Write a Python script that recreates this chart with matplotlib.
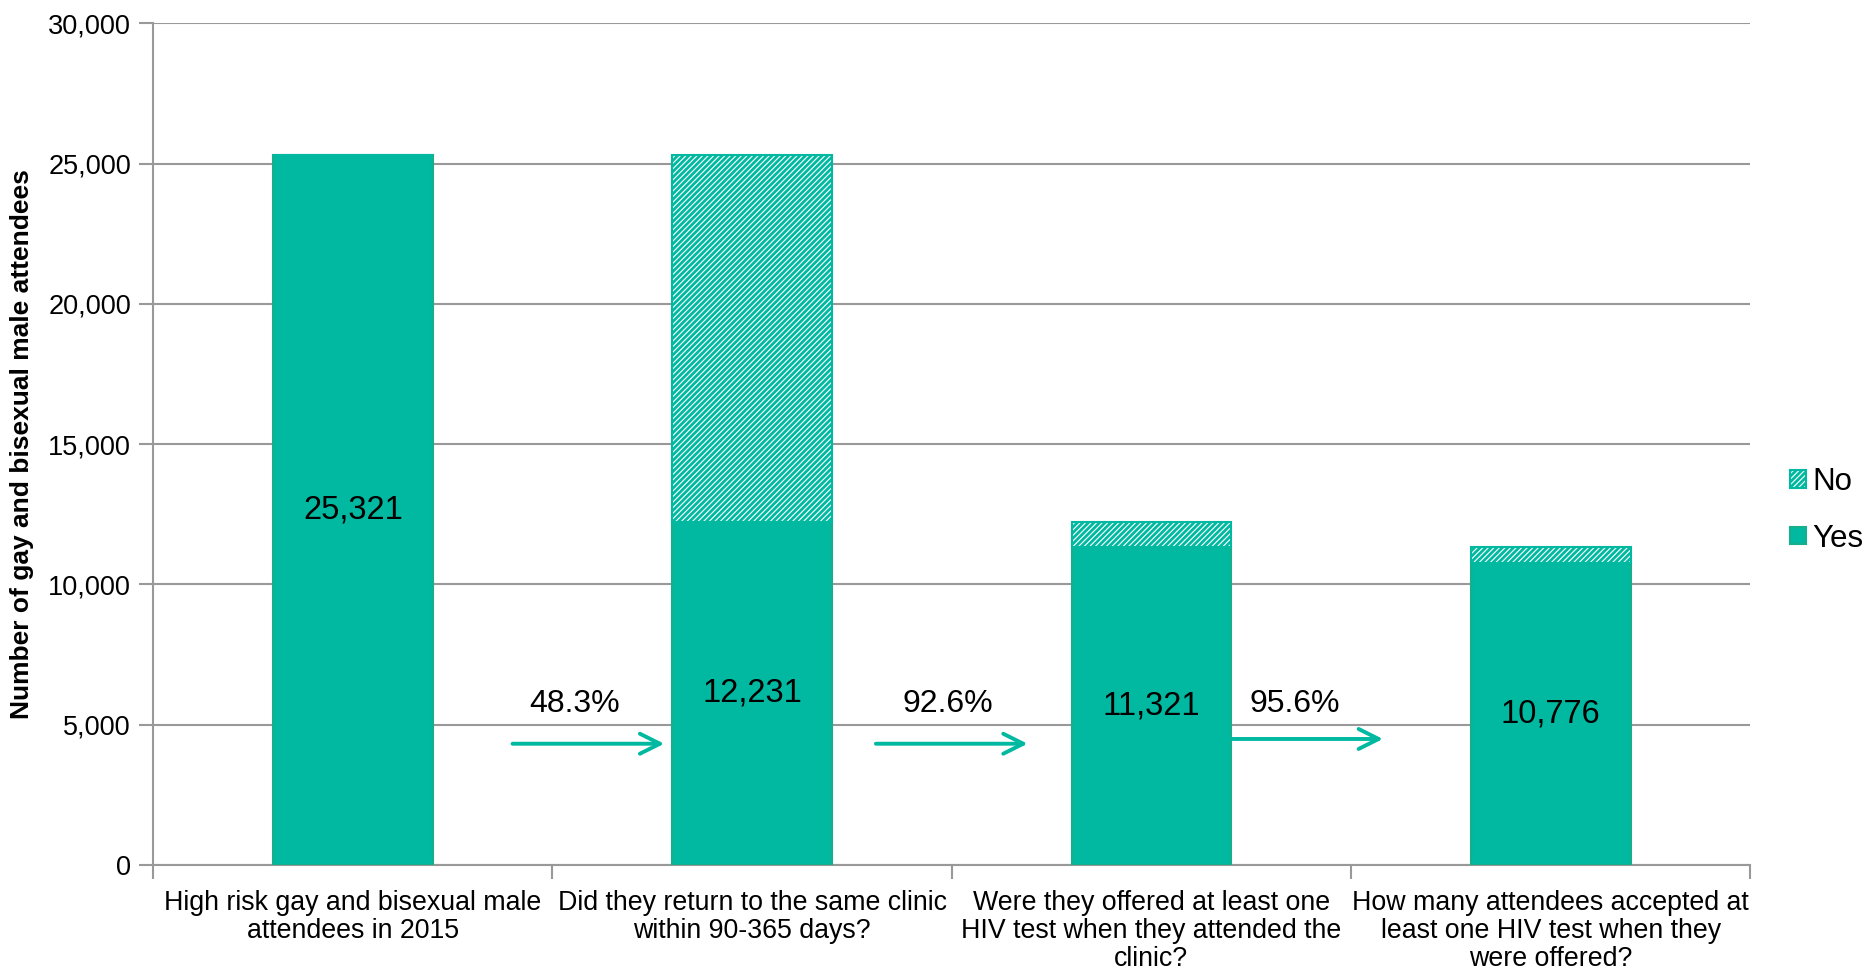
import matplotlib.pyplot as plt
import numpy as np

plt.rcParams['font.family'] = ['Liberation Sans', 'DejaVu Sans']
plt.rcParams['hatch.linewidth'] = 2.0

categories = ['High risk gay and bisexual male\nattendees in 2015',
              'Did they return to the same clinic\nwithin 90-365 days?',
              'Were they offered at least one\nHIV test when they attended the\nclinic?',
              'How many attendees accepted at\nleast one HIV test when they\nwere offered?']
yes_vals = [25321, 12231, 11321, 10776]
no_vals = [0, 13090, 910, 545]
pct_labels = ['48.3%', '92.6%', '95.6%']

teal = '#00B9A0'
edge = '#17AE8C'

fig = plt.figure(figsize=(18.68, 9.74), dpi=100)
ax = fig.add_axes([0.082, 0.112, 0.855, 0.864])

x = np.arange(len(categories))
ax.bar(x, yes_vals, width=0.4, color=teal, edgecolor=edge, linewidth=1.5, label='Yes', zorder=3)
ax.bar(x, no_vals, width=0.4, bottom=yes_vals, color='white', edgecolor=teal,
       hatch='//////', linewidth=1.5, label='No', zorder=3)

for i in range(len(x)):
    ax.text(x[i], yes_vals[i] / 2, '{:,}'.format(yes_vals[i]), ha='center', va='center',
            fontsize=23.5, zorder=4)

# arrows between the steps
arrow_x = [(0.40, 0.78), (1.31, 1.69), (2.20, 2.58)]
arrow_y = [4320, 4320, 4490]
label_x = [0.555, 1.49, 2.36]
for i in range(len(pct_labels)):
    ax.annotate('', xy=(arrow_x[i][1], arrow_y[i]), xytext=(arrow_x[i][0], arrow_y[i]),
                arrowprops=dict(arrowstyle='->', color=teal, lw=2.8, mutation_scale=36,
                                shrinkA=0, shrinkB=0), zorder=5)
    ax.text(label_x[i], 5750, pct_labels[i], ha='center', va='center', fontsize=23, zorder=5)

ax.set_xlim(-0.5, 3.5)
ax.set_ylim(0, 30000)
ax.set_yticks(np.arange(0, 30001, 5000))
ax.set_yticklabels(['{:,}'.format(v) for v in range(0, 30001, 5000)], fontsize=19.5)
ax.yaxis.grid(True, color='#999999', linewidth=1.5, zorder=0)
ax.set_axisbelow(True)

ax.set_xticks(x)
ax.set_xticklabels(categories, fontsize=19.3, linespacing=1.1)
ax.tick_params(axis='x', which='major', length=0, pad=18)
ax.set_xticks(np.arange(-0.5, 3.6, 1), minor=True)
ax.tick_params(axis='x', which='minor', length=10, width=1.5, color='#999999', direction='out')
ax.tick_params(axis='y', length=10, width=1.5, color='#999999', direction='out', pad=6)

for s in ['top', 'right']:
    ax.spines[s].set_visible(False)
ax.spines['left'].set_color('#999999')
ax.spines['bottom'].set_color('#999999')
ax.spines['left'].set_linewidth(1.5)
ax.spines['bottom'].set_linewidth(1.5)

ax.set_ylabel('Number of gay and bisexual male attendees', fontsize=19, fontweight='bold', labelpad=10)

handles, labels = ax.get_legend_handles_labels()
fig.legend(handles[::-1], labels[::-1], loc='center left', bbox_to_anchor=(0.9585, 0.476),
           frameon=False, fontsize=22.5, handlelength=0.5, handleheight=0.5, handletextpad=0.2,
           labelspacing=0.85, borderpad=0, borderaxespad=0)

fig.savefig('out.png', dpi=100)
